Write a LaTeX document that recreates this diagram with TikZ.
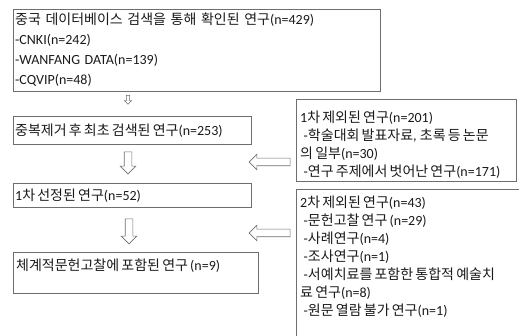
\documentclass[tikz,border=0pt]{standalone}
\usepackage{fontspec}
\setmainfont{Carlito}
\newfontfamily\krfont{Noto Sans CJK KR}[Scale=1.0,WordSpace=0.7]
\newfontfamily\latfont{Carlito}
\usetikzlibrary{shapes.arrows,calc}
\XeTeXinterchartokenstate=1
\newXeTeXintercharclass\HangulClass
\newXeTeXintercharclass\LatinClass
\makeatletter
\count@="AC00
\loop\XeTeXcharclass\count@=\HangulClass\ifnum\count@<"D7A3\advance\count@\@ne\repeat
\count@="21
\loop\XeTeXcharclass\count@=\LatinClass\ifnum\count@<"7E\advance\count@\@ne\repeat
\makeatother
\XeTeXinterchartoks \LatinClass \HangulClass={\krfont}
\XeTeXinterchartoks 4095 \HangulClass={\krfont}
\XeTeXinterchartoks 0 \HangulClass={\krfont}
\XeTeXinterchartoks \HangulClass \LatinClass={\latfont}
\XeTeXinterchartoks 4095 \LatinClass={\latfont}
\XeTeXinterchartoks 0 \LatinClass={\latfont}
\definecolor{boxgray}{RGB}{110,110,110}
\definecolor{txtblack}{RGB}{25,25,25}
\newcommand{\boxonefont}{\fontsize{14}{20}\selectfont\spaceskip 4.6pt\relax}
\tikzset{
  box/.style={draw=boxgray, line width=0.8pt, inner sep=0, anchor=north west},
  txt/.style={inner sep=0, anchor=north west, align=left, text=txtblack,
    font=\fontsize{14}{18}\selectfont},
  txtwide/.style={txt, font=\boxonefont},
  blockarrow/.style={single arrow, draw=boxgray, line width=0.6pt, inner sep=3.5pt,
    single arrow head extend=4pt, single arrow tip angle=90},
  smallarrow/.style={single arrow, draw=boxgray, line width=0.5pt, inner sep=1.3pt,
    single arrow head extend=2pt, single arrow tip angle=90}
}
\newcommand{\dsh}{\hspace*{3.5pt}-}
\begin{document}
\begin{tikzpicture}[x=1pt,y=-1pt]
\useasboundingbox (0,0) rectangle (519,336);
% left column boxes
\node[box, minimum width=367pt, minimum height=82pt] (b1) at (13,9) {};
\node[box, minimum width=238pt, minimum height=28pt] (b2) at (13,116) {};
\node[box, minimum width=238pt, minimum height=24pt] (b3) at (13,183) {};
\node[box, minimum width=245pt, minimum height=41pt] (b4) at (13,252) {};
% right column boxes
\node[box, minimum width=220pt, minimum height=82pt] (bA) at (296,99) {};
\node[box, minimum width=225pt, minimum height=160pt] (bB) at (296,189) {};
% texts
\node[txtwide] (t1) at (15,12.5) {중국 데이터베이스 검색을 통해 확인된 연구(n=429)\\-CNKI(n=242)\\-WANFANG DATA(n=139)\\-CQVIP(n=48)};
\node[txt] (t2) at (15,123.5) {중복제거 후 최초 검색된 연구(n=253)};
\node[txt] (t3) at (15,188.5) {1차 선정된 연구(n=52)};
\node[txt] (t4) at (16,258.5) {체계적문헌고찰에 포함된 연구 (n=9)};
\node[txt] (tA) at (300,110.5) {1차 제외된 연구(n=201)\\\dsh 학술대회 발표자료, 초록 등 논문\\의 일부(n=30)\\\dsh 연구 주제에서 벗어난 연구(n=171)};
\node[txt] (tB) at (300,195.5) {2차 제외된 연구(n=43)\\\dsh 문헌고찰 연구 (n=29)\\\dsh 사례연구(n=4)\\\dsh 조사연구(n=1)\\\dsh 서예치료를 포함한 통합적 예술치\\료 연구(n=8)\\\dsh 원문 열람 불가 연구(n=1)};
% block arrows
\node[smallarrow, minimum height=9pt, shape border rotate=270] (a1) at (128,99) {};
\node[blockarrow, minimum height=22pt, shape border rotate=270] (a2) at (128,161) {};
\node[blockarrow, minimum height=25pt, shape border rotate=270] (a3) at (129,229.5) {};
\node[blockarrow, minimum height=41pt, shape border rotate=180] (aL1) at (271.5,162) {};
\node[blockarrow, minimum height=41pt, shape border rotate=180] (aL2) at (271.5,233) {};
\end{tikzpicture}
\end{document}
